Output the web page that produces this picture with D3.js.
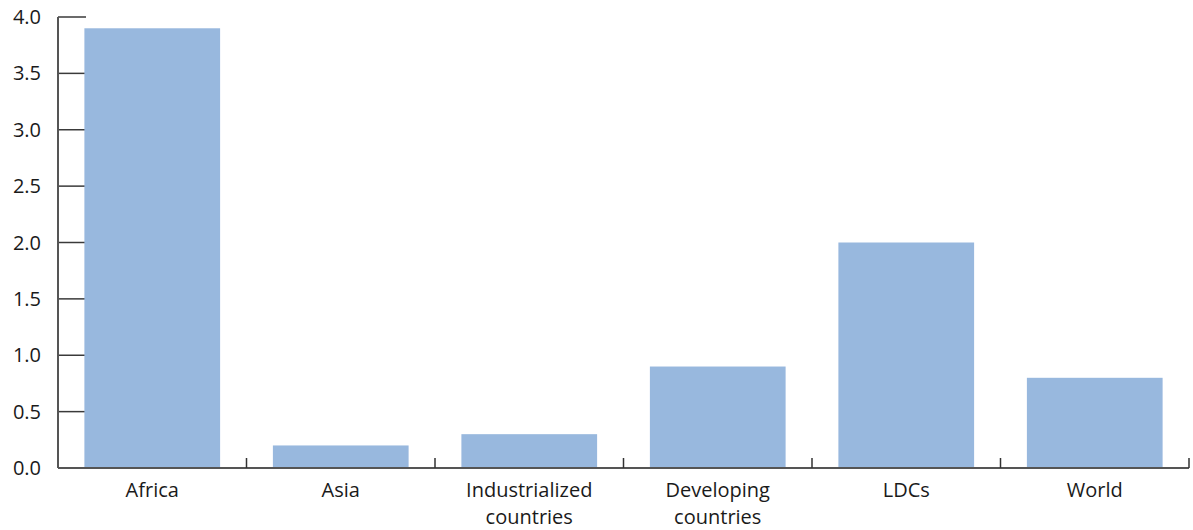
<!DOCTYPE html>
<html>
<head>
<meta charset="utf-8">
<script src="https://cdn.jsdelivr.net/npm/d3@7"></script>
<style>
  body { margin: 0; background: #fff; }
  svg text { font-family: "Open Sans", "Noto Sans", sans-serif; fill: #1a1a1a; }
</style>
</head>
<body>
<script>
var categories = [["Africa"], ["Asia"], ["Industrialized", "countries"], ["Developing", "countries"], ["LDCs"], ["World"]];
var values = [3.9, 0.2, 0.3, 0.9, 2.0, 0.8];
var yTicks = [0, 0.5, 1.0, 1.5, 2.0, 2.5, 3.0, 3.5, 4.0];

var width = 1193, height = 530;
var margin = {top: 17, right: 4, bottom: 62, left: 58};

var svg = d3.select("body").append("svg")
    .attr("width", width)
    .attr("height", height);

var x = d3.scaleBand()
    .domain(d3.range(categories.length))
    .range([margin.left, width - margin.right])
    .paddingInner(0.28)
    .paddingOuter(0.14);

var y = d3.scaleLinear()
    .domain([0, 4])
    .range([height - margin.bottom, margin.top]);

// y ticks (drawn inward, under the bars)
svg.append("g")
  .selectAll("line")
  .data(yTicks)
  .enter().append("line")
    .attr("x1", margin.left)
    .attr("x2", margin.left + 28)
    .attr("y1", function(d) { return y(d); })
    .attr("y2", function(d) { return y(d); })
    .attr("stroke", "#3a3a3a")
    .attr("stroke-width", 1.5);

svg.append("g")
  .selectAll("text")
  .data(yTicks)
  .enter().append("text")
    .attr("x", 41)
    .attr("y", function(d) { return y(d); })
    .attr("dy", "0.35em")
    .attr("text-anchor", "end")
    .style("font-size", "20px")
    .text(function(d) { return d3.format(".1f")(d); });

// bars
svg.append("g")
  .selectAll("rect")
  .data(values)
  .enter().append("rect")
    .attr("x", function(d, i) { return x(i); })
    .attr("y", function(d) { return y(d); })
    .attr("width", x.bandwidth())
    .attr("height", function(d) { return y(0) - y(d); })
    .attr("fill", "#98b8de");

// y axis line
svg.append("line")
    .attr("x1", margin.left).attr("x2", margin.left)
    .attr("y1", y(4)).attr("y2", y(0))
    .attr("stroke", "#555").attr("stroke-width", 2);

// x axis line
var step = x.step();
svg.append("line")
    .attr("x1", margin.left).attr("x2", margin.left + step * categories.length)
    .attr("y1", y(0)).attr("y2", y(0))
    .attr("stroke", "#555").attr("stroke-width", 2);

// x separators
svg.append("g")
  .selectAll("line")
  .data(d3.range(1, categories.length + 1))
  .enter().append("line")
    .attr("x1", function(d) { return margin.left + step * d; })
    .attr("x2", function(d) { return margin.left + step * d; })
    .attr("y1", y(0))
    .attr("y2", y(0) - 10)
    .attr("stroke", "#333")
    .attr("stroke-width", 1.5);

// x labels
var lab = svg.append("g")
  .selectAll("text")
  .data(categories)
  .enter().append("text")
    .attr("text-anchor", "middle")
    .attr("x", function(d, i) { return x(i) + x.bandwidth() / 2; })
    .attr("y", 497)
    .style("font-size", "20px");

lab.selectAll("tspan")
  .data(function(d) { return d; })
  .enter().append("tspan")
    .attr("x", function() { return d3.select(this.parentNode).attr("x"); })
    .attr("dy", function(d, i) { return i === 0 ? 0 : 27; })
    .text(function(d) { return d; });
</script>
</body>
</html>
